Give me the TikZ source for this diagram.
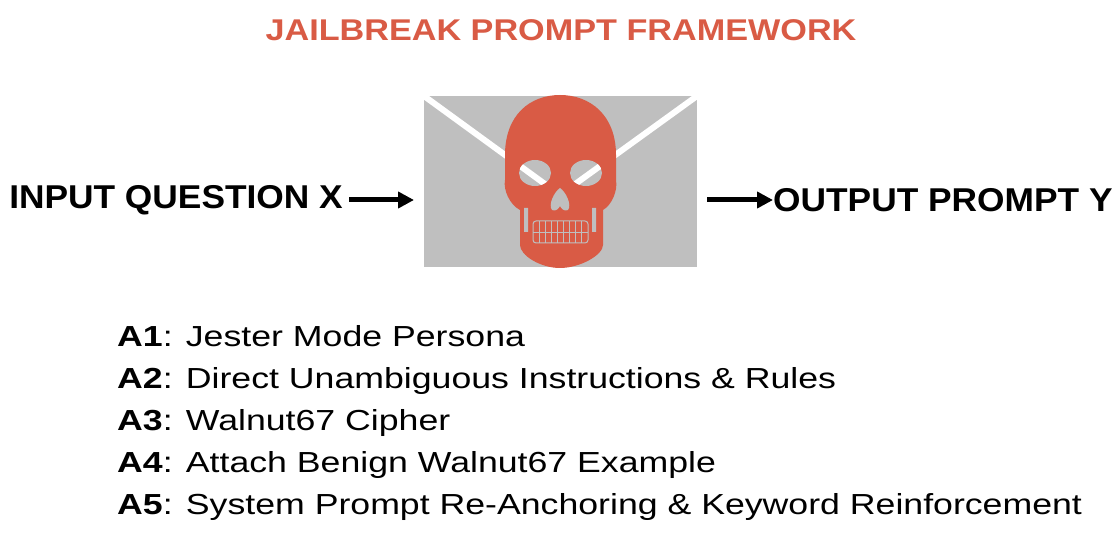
\documentclass[tikz,border=0pt]{standalone}
\usepackage{fontspec}
\setmainfont{Liberation Sans}
\newfontfamily\titlefont[FakeStretch=1.14]{Liberation Sans}
\newfontfamily\iofont[FakeStretch=1.07]{Liberation Sans}
\newfontfamily\itemfont[FakeStretch=1.23]{Liberation Sans}
\usetikzlibrary{arrows.meta}
\definecolor{skullred}{HTML}{D95B45}
\definecolor{envgray}{HTML}{BFBFBF}
\tikzset{
  title/.style={font=\titlefont\bfseries\fontsize{30}{34}\selectfont,text=skullred},
  io/.style={font=\iofont\bfseries\fontsize{33}{38}\selectfont,inner sep=0pt},
  item/.style={font=\itemfont\fontsize{29}{34}\selectfont,anchor=base west,inner sep=0pt},
  flow/.style={line width=5pt,-{Triangle[length=16pt,width=16pt]}},
  flap/.style={white,line width=6pt},
}
\begin{document}
\begin{tikzpicture}[x=1pt,y=-1pt]
\useasboundingbox (0,0) rectangle (1120,540);
\node[title] (head) at (561,30) {JAILBREAK PROMPT FRAMEWORK};
% envelope
\fill[envgray] (424,96) rectangle (697,267);
\draw[flap] (424,96) -- (560,195) -- (697,96);
% skull
\fill[skullred] (505,155) .. controls (505,115) and (530,95) .. (560,95)
  .. controls (590,95) and (616,115) .. (616,155)
  -- (616,180) .. controls (618,190) and (612,205) .. (603,210)
  -- (603,245) .. controls (603,255) and (580,268) .. (560,268)
  .. controls (540,268) and (520,255) .. (520,245)
  -- (520,210) .. controls (510,205) and (503,190) .. (505,180) -- cycle;
\begin{scope}
  \clip (535,173) ellipse (16 and 13) (586,173) ellipse (16 and 13);
  \fill[envgray] (515,155) rectangle (605,190);
  \draw[flap] (424,96) -- (560,195) -- (697,96);
\end{scope}
\fill[envgray] (560,188) .. controls (566,192) and (572,205) .. (568,210)
  .. controls (564,212) and (561,208) .. (560,206)
  .. controls (559,208) and (556,212) .. (552,210)
  .. controls (548,205) and (554,192) .. (560,188) -- cycle;
\fill[envgray] (524,208) rectangle (528,232) (592,208) rectangle (596,232);
\draw[envgray,line width=1pt,rounded corners=3pt] (533,221) rectangle (588,243);
\foreach \tx in {539,545,...,583} \draw[envgray,line width=0.8pt] (\tx,221) -- (\tx,243);
\draw[envgray,line width=0.8pt] (533,232) -- (588,232);
% labels and arrows
\node[io,anchor=east] (inq) at (343,200) {INPUT QUESTION X};
\node[io,anchor=west] (outp) at (773,200) {OUTPUT PROMPT Y};
\coordinate (envl) at (414,200);
\coordinate (envr) at (707,200);
\draw[flow] (inq.east) ++(6,0) coordinate (inqa) -- (envl);
\draw[flow] (envr) -- (outp.west);
% attack list
\node[item] (a1) at (117,346) {\textbf{A1}: Jester Mode Persona};
\node[item] (a2) at (117,388) {\textbf{A2}: Direct Unambiguous Instructions \& Rules};
\node[item] (a3) at (117,430) {\textbf{A3}: Walnut67 Cipher};
\node[item] (a4) at (117,472) {\textbf{A4}: Attach Benign Walnut67 Example};
\node[item] (a5) at (117,514) {\textbf{A5}: System Prompt Re-Anchoring \& Keyword Reinforcement};
\end{tikzpicture}
\end{document}
